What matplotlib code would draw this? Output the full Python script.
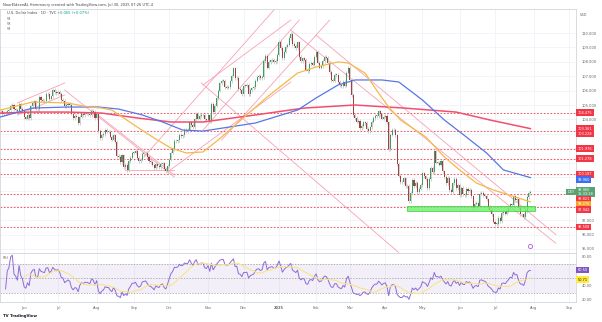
import numpy as np
import pandas as pd
import matplotlib
matplotlib.use('Agg')
import matplotlib.pyplot as plt
from matplotlib.patches import Rectangle

# daily closes, U.S. Dollar Index (TVC)
may24 = [104.55, 104.35, 104.45, 104.45, 104.60, 104.65, 104.92, 105.00, 104.70, 104.65, 104.55, 105.10, 104.75, 104.60]
jun24 = [104.15, 104.05, 104.30, 104.10, 104.90, 105.15, 105.25, 104.70, 104.70, 105.55,
         105.35, 105.30, 105.25, 105.75, 105.80, 105.45, 105.60, 106.05, 105.90, 105.85]
jul24 = [105.90, 105.75, 105.35, 105.30, 104.90, 105.00, 105.10, 105.00, 104.40, 104.10, 104.25, 104.20,
         103.75, 104.20, 104.40, 104.30, 104.40, 104.40, 104.35, 104.30, 104.60, 104.50, 104.10]
aug24 = [104.40, 103.20, 102.70, 102.90, 103.00, 103.25, 103.15, 103.15, 102.80, 102.60, 102.90,
         102.45, 101.45, 101.40, 101.05, 101.50, 100.70, 100.85, 100.50, 101.10, 101.35, 101.70]
sep24 = [101.70, 101.80, 101.35, 101.10, 101.20, 101.60, 101.65, 101.70, 101.40, 101.10, 101.05,
         100.85, 100.60, 100.90, 100.75, 100.70, 100.90, 100.95, 100.55, 100.40, 100.75]
oct24 = [101.20, 101.70, 101.95, 102.50, 102.50, 102.55, 102.95, 102.85, 102.90, 103.25, 103.20, 103.25,
         103.80, 103.60, 103.45, 104.00, 104.40, 104.05, 104.25, 104.30, 104.30, 104.00, 103.95]
nov24 = [104.30, 103.90, 105.10, 104.50, 104.95, 105.50, 106.00, 106.50, 106.70, 106.70, 106.25,
         106.20, 106.25, 106.65, 107.05, 107.55, 106.85, 106.90, 106.10, 106.05, 105.75]
dec24 = [106.35, 106.35, 106.40, 105.75, 106.05, 106.15, 106.25, 106.70, 106.95, 107.00, 106.85,
         106.95, 108.05, 108.40, 107.60, 108.00, 108.10, 108.15, 108.00, 108.05, 108.50]
jan25 = [109.40, 108.95, 108.25, 108.70, 109.05, 109.20, 109.65, 109.95, 109.25, 109.10, 108.95,
         109.35, 108.35, 108.05, 108.25, 108.15, 107.45, 107.35, 107.85, 107.95, 107.80, 108.35]
feb25 = [108.70, 107.95, 107.60, 107.70, 108.05, 108.35, 108.30, 107.95, 107.30, 106.75,
         106.70, 107.10, 107.10, 106.60, 106.40, 106.30, 106.60, 106.35, 107.25, 107.60]
mar25 = [106.75, 105.70, 104.30, 104.10, 103.85, 103.90, 103.40, 103.55, 103.80, 103.75, 103.35,
         103.20, 103.45, 103.85, 104.10, 104.25, 104.25, 104.55, 104.35, 104.05, 104.20]
apr25 = [104.25, 103.80, 101.95, 102.95, 103.25, 103.25, 102.90, 100.90, 100.10, 99.65, 99.65,
         99.90, 99.35, 99.40, 98.30, 98.90, 99.80, 99.35, 99.60, 98.95, 99.20, 99.45]
may25 = [100.25, 100.05, 99.85, 99.25, 99.85, 100.65, 100.35, 101.80, 101.00, 101.00, 100.85,
         101.10, 100.40, 100.00, 99.55, 99.95, 99.10, 98.95, 99.55, 99.85, 99.25, 99.45]
jun25 = [98.75, 99.25, 98.80, 98.75, 99.20, 99.00, 99.10, 98.65, 97.85, 98.15, 98.20,
         98.00, 98.85, 98.90, 98.75, 98.70, 98.45, 97.90, 97.70, 97.40, 96.90]
jul25 = [96.75, 96.75, 97.15, 96.95, 97.50, 97.55, 97.45, 97.65, 97.85, 98.10, 98.05,
         98.65, 98.40, 98.45, 97.85, 97.40, 97.40, 97.20, 97.65, 98.60, 98.90, 98.96]

# moving averages (date, value)
ma50_dates = ['2024-05-14', '2024-06-10', '2024-07-09', '2024-07-25', '2024-08-06', '2024-08-14', '2024-09-04',
              '2024-09-18', '2024-10-02', '2024-10-15', '2024-10-29', '2024-11-11', '2024-12-20', '2025-01-17',
              '2025-02-03', '2025-02-20', '2025-02-28', '2025-03-14', '2025-03-26', '2025-04-03', '2025-04-14',
              '2025-05-05', '2025-05-20', '2025-06-02', '2025-06-16', '2025-06-30', '2025-07-30']
ma50_vals = [104.65, 105.21, 105.14, 104.86, 104.79, 104.65, 103.47, 102.71, 102.01, 101.67, 101.74, 102.57,
             105.56, 107.22, 107.64, 107.99, 107.92, 107.22, 105.83, 104.86, 103.96, 102.78, 101.39, 100.49,
             99.58, 99.10, 98.27]
ma100_dates = ['2024-05-14', '2024-06-10', '2024-07-09', '2024-08-02', '2024-08-20', '2024-09-09', '2024-09-25',
               '2024-10-11', '2024-10-29', '2024-12-11', '2025-01-17', '2025-02-03', '2025-02-20', '2025-03-06',
               '2025-03-28', '2025-04-11', '2025-05-01', '2025-05-20', '2025-06-06', '2025-06-24', '2025-07-08',
               '2025-07-30']
ma100_vals = [104.17, 104.79, 104.86, 104.86, 104.72, 104.31, 103.82, 103.26, 103.19, 103.75, 104.65, 105.49,
              106.39, 106.74, 106.74, 106.60, 105.35, 103.96, 102.78, 101.67, 100.49, 99.96]
ma200_dates = ['2024-05-14', '2024-06-10', '2024-07-09', '2024-08-06', '2024-09-04', '2024-10-02', '2024-10-29',
               '2024-12-11', '2025-01-23', '2025-03-06', '2025-04-16', '2025-05-29', '2025-06-26', '2025-07-30']
ma200_vals = [104.44, 104.51, 104.51, 104.44, 104.10, 103.82, 103.82, 104.31, 104.79, 105.00, 104.79, 104.51,
              103.96, 103.36]

# horizontal levels
levels = [104.475, 103.228, 101.976, 101.278, 100.187, 98.821, 97.942, 96.508]
zone = ('2025-04-18', '2025-08-04', 97.62, 97.98)

# trend/channel lines: (date0, price0, date1, price1)
channels = [
    ('2024-05-28', 105.14, '2024-07-05', 106.53),
    ('2024-05-28', 104.30, '2024-07-05', 105.70),
    ('2024-07-05', 106.04, '2024-10-04', 100.00),
    ('2024-07-29', 104.65, '2024-10-04', 100.14),
    ('2024-08-26', 100.49, '2024-10-04', 100.49),
    ('2024-09-10', 101.39, '2024-12-27', 111.60),
    ('2024-10-29', 103.26, '2025-01-20', 110.90),
    ('2024-11-13', 102.57, '2025-02-13', 110.90),
    ('2024-10-29', 106.39, '2025-01-13', 110.90),
    ('2024-09-30', 100.35, '2025-01-13', 106.60),
    ('2024-10-28', 106.53, '2025-04-11', 94.75),
    ('2025-01-13', 110.20, '2025-08-20', 95.40),
    ('2025-02-03', 109.86, '2025-08-20', 96.00),
]

# right-scale tags: value, text, colour
price_tags = [(104.475, '104.475', '#f23645'), (103.361, '103.361', '#f23645'), (103.228, '103.228', '#f23645'),
              (101.976, '101.976', '#f23645'), (101.278, '101.278', '#f23645'), (100.187, '100.187', '#f23645'),
              (99.960, '99.960', '#3f6ef0'), (98.960, '98.960\n15:33:18', '#5ba271'), (98.821, '98.821', '#f23645'),
              (98.276, '98.276', '#f5a623'), (97.942, '97.942', '#f23645'), (96.508, '96.508', '#f23645')]

rsi_len = 14

closes = may24 + jun24 + jul24 + aug24 + sep24 + oct24 + nov24 + dec24 + jan25 + feb25 + mar25 + apr25 + may25 + jun25 + jul25
cal = pd.bdate_range('2024-05-14', '2025-09-30')
cal = cal[~cal.isin(pd.to_datetime(['2024-12-25', '2025-01-01']))]
def pos(d):
    return int(np.searchsorted(cal, pd.Timestamp(d)))

n = len(closes)
x = np.arange(n)
c = np.array(closes)
o = np.r_[c[0], c[:-1]]
up = c >= o

plt.rcParams['font.family'] = ['DejaVu Sans']
fig = plt.figure(figsize=(6.02, 3.22), dpi=100)
W, H = 602, 322
axw = 576 / W
ax = fig.add_axes([0, 1 - 253 / H, axw, 244 / H])
ar = fig.add_axes([0, 1 - 302 / H, axw, 49 / H], sharex=ax)

grid = '#f0f3fa'
months = [('2024-06-03', 'Jun'), ('2024-07-01', 'Jul'), ('2024-08-01', 'Aug'), ('2024-09-02', 'Sep'),
          ('2024-10-01', 'Oct'), ('2024-11-01', 'Nov'), ('2024-12-02', 'Dec'), ('2025-01-02', '2025'),
          ('2025-02-03', 'Feb'), ('2025-03-03', 'Mar'), ('2025-04-01', 'Apr'), ('2025-05-01', 'May'),
          ('2025-06-02', 'Jun'), ('2025-07-01', 'Jul'), ('2025-08-01', 'Aug'), ('2025-09-01', 'Sep')]
mt = [pos(d) for d, _ in months]

fs = 2.6
for a in (ax, ar):
    for s in a.spines.values():
        s.set_color('#d1d4dc')
        s.set_linewidth(0.6)
    a.yaxis.tick_right()
    a.tick_params(axis='y', length=0, labelsize=fs, labelcolor='#666', pad=4)
    a.tick_params(axis='x', length=0)
    a.set_xticks(mt)
    a.grid(True, axis='x', color=grid, lw=0.6)
    a.set_axisbelow(True)

ax.set_xlim(-0.3, 341)
ax.set_ylim(94.72, 111.67)
yt = np.arange(95, 111)
for v in yt:
    ax.axhline(v, color=grid, lw=0.6, zorder=0)
ax.tick_params(axis='x', labelbottom=False)

# candles
wick = 0.12
ax.vlines(x, np.minimum(o, c) - wick, np.maximum(o, c) + wick, color='#c8c8c8', lw=0.6, zorder=2)
h = np.where(np.abs(c - o) < 0.03, 0.03, c - o)
ax.bar(x[up], h[up], bottom=o[up], width=0.62, color='#3f9d63', lw=0, zorder=3)
ax.bar(x[~up], h[~up], bottom=o[~up], width=0.62, color='#a0403f', lw=0, zorder=3)

# moving averages
ax.plot([pos(d) for d in ma200_dates], ma200_vals, color='#f0506e', lw=1.1, zorder=4)
ax.plot([pos(d) for d in ma100_dates], ma100_vals, color='#5677e8', lw=0.9, zorder=4)
ax.plot([pos(d) for d in ma50_dates], ma50_vals, color='#f6b84a', lw=0.9, zorder=4)

# levels and zone
for lv in levels:
    ax.axhline(lv, color='#f23645', lw=0.6, ls=(0, (2, 2)), zorder=1)
z0, z1, zl, zh = zone
ax.add_patch(Rectangle((pos(z0), zl), pos(z1) - pos(z0), zh - zl, fc='#6cf06c', ec='#36c936', lw=0.6, alpha=0.8, zorder=3))

for d0, p0, d1, p1 in channels:
    ax.plot([pos(d0), pos(d1)], [p0, p1], color='#f7a1b3', lw=0.6, zorder=1)

ax.plot(pos('2025-07-30'), 95.2, 'o', ms=3, mfc='white', mec='#b05fd0', mew=0.6, zorder=5)

# price tags on the scale, pushed apart so they do not overlap
def tag(a, v, txt, fc, tc='white', dy=0):
    a.annotate(txt, xy=(1, v), xycoords=('axes fraction', 'data'), xytext=(1.2, dy), textcoords='offset points',
               ha='left', va='center', fontsize=2.5, color=tc, annotation_clip=False, linespacing=1.0,
               bbox=dict(boxstyle='square,pad=0.35', fc=fc, ec='none'), zorder=10)

def ypix(a, v):
    return a.transData.transform((0, v))[1]

busy = []
prev = None
for v, t, fc in sorted(price_tags, key=lambda r: -r[0]):
    y0 = ypix(ax, v)
    hh = 9.5 if '\n' in t else 5.2
    yp = y0
    if prev is not None and prev - yp < hh:
        yp = prev - hh
    tag(ax, v, t, fc, dy=(yp - y0) * 72 / 100)
    busy.append((yp, hh))
    prev = yp - (2 if '\n' in t else 0)

# scale labels hidden where a tag sits on them
keep = [v for v in yt if all(abs(ypix(ax, v) - b) > hh / 2 + 2.6 for b, hh in busy)]
ax.set_yticks(keep)
ax.yaxis.set_major_formatter(plt.FuncFormatter(lambda v, p: f'{v:.3f}'))

ax.annotate('DXY', xy=(1, 98.96), xycoords=('axes fraction', 'data'), xytext=(-1, 0), textcoords='offset points',
            ha='right', va='center', fontsize=2.4, color='white', annotation_clip=False,
            bbox=dict(boxstyle='square,pad=0.35', fc='#5ba271', ec='none'), zorder=10)

# RSI
cs = pd.Series(c)
d = cs.diff()
g = d.clip(lower=0).ewm(alpha=1 / rsi_len, adjust=True).mean()
l = (-d.clip(upper=0)).ewm(alpha=1 / rsi_len, adjust=True).mean()
rsi = 100 - 100 / (1 + g / l)
rsi_ma = rsi.rolling(rsi_len).mean()

ar.axhspan(30, 70, color='#7e57c2', alpha=0.09, lw=0)
for lv in (70, 50, 30):
    ar.axhline(lv, color='#9598a1', lw=0.5, ls=(0, (2, 2)))
ar.plot(x[3:], rsi[3:], color='#8e6bd6', lw=0.7)
ar.plot(x, rsi_ma, color='#f7e48a', lw=0.8)
ar.set_ylim(17, 84.5)
ar.set_yticks([20, 40, 80])
ar.yaxis.set_major_formatter(plt.FuncFormatter(lambda v, p: f'{v:.2f}'))
ar.set_xticklabels([m for _, m in months])
ar.tick_params(axis='x', labelsize=fs, labelcolor='#666', pad=3)
for lab in ar.get_xticklabels():
    if lab.get_text() == '2025':
        lab.set_fontweight('bold')
tag(ar, rsi.iloc[-1], f'{rsi.iloc[-1]:.2f}', '#7e57c2', dy=0.5)
tag(ar, rsi_ma.iloc[-1], f'{rsi_ma.iloc[-1]:.2f}', '#ffeb3b', tc='#131722', dy=-1.5)

# texts
fig.text(3 / W, 1 - 5 / H, 'NourEldeenAL Hammoury created with TradingView.com, Jul 30, 2025 07:26 UTC-4',
         fontsize=2.6, color='#444', va='center')
fig.text(7 / W, 1 - 13 / H, 'U.S. Dollar Index · 1D · TVC', fontsize=2.6, color='#444', va='center')
fig.text(57 / W, 1 - 13 / H, '+0.065 (+0.07%)', fontsize=2.6, color='#089981', va='center')
for yy in (19, 24, 29):
    fig.text(7 / W, 1 - yy / H, 'MA', fontsize=2, color='#888', va='center')
fig.text(3 / W, 1 - 258 / H, 'RSI', fontsize=2.4, color='#666', va='center')
fig.text(584 / W, 1 - 15 / H, 'USD', fontsize=2.5, color='#666', va='center', ha='center')
fig.text(3 / W, 1 - 316 / H, 'TV TradingView', fontsize=2.8, color='#131722', va='center', fontweight='bold')

fig.savefig('out.png', dpi=100)
